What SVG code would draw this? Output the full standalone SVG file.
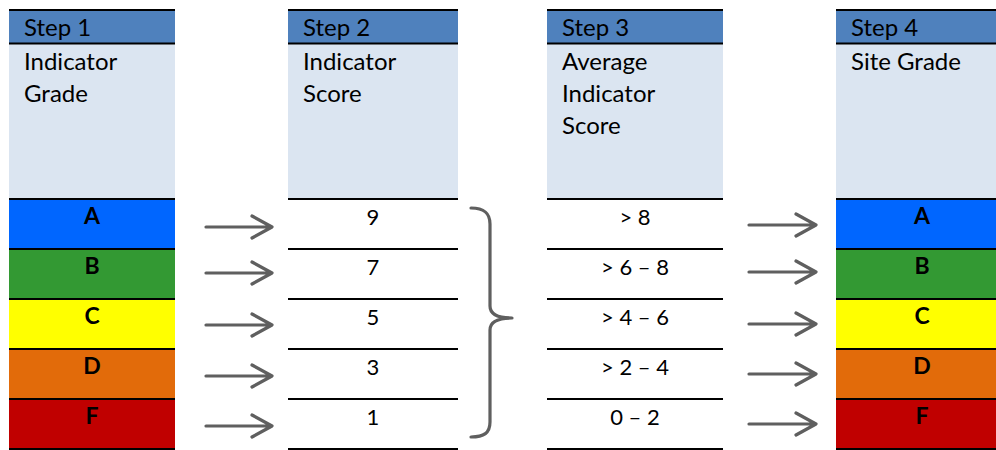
<svg xmlns="http://www.w3.org/2000/svg" width="996" height="450" viewBox="0 0 996 450">
  <style>
    .head { fill: #4F81BD; }
    .body { fill: #DBE5F1; }
    .rule { stroke: #000; stroke-width: 2; fill: none; }
    .txt { font-family: Lato, "Open Sans", "Liberation Sans", sans-serif; font-size: 24px; fill: #000; }
    .grade { font-family: Lato, "Open Sans", "Liberation Sans", sans-serif; font-size: 23px; font-weight: bold; fill: #000; text-anchor: middle; }
    .num { font-family: Lato, "Open Sans", "Liberation Sans", sans-serif; font-size: 22px; fill: #000; text-anchor: middle; }
    .conn { stroke: #5F5F5F; stroke-width: 3.2; fill: none; stroke-linecap: round; stroke-linejoin: round; }
    .ga { fill: #0066FF; } .gb { fill: #339933; } .gc { fill: #FFFF00; } .gd { fill: #E26B0A; } .gf { fill: #C00000; }
  </style>
  <rect width="996" height="450" fill="#fff"/>

  <!-- Step 1: indicator grade -->
  <g id="step1">
    <rect class="head" x="9" y="10" width="166" height="33"/>
    <rect class="body" x="9" y="43" width="166" height="156"/>
    <rect class="ga" x="9" y="199" width="166" height="50"/>
    <rect class="gb" x="9" y="249" width="166" height="50"/>
    <rect class="gc" x="9" y="299" width="166" height="50"/>
    <rect class="gd" x="9" y="349" width="166" height="50"/>
    <rect class="gf" x="9" y="399" width="166" height="50"/>
    <path class="rule" d="M9 10H175M9 43.5H175M9 199H175M9 249H175M9 299H175M9 349H175M9 399H175M9 449H175"/>
    <text class="txt" x="24" y="36">Step 1</text>
    <text class="txt" x="24" y="70">Indicator</text>
    <text class="txt" x="24" y="102">Grade</text>
    <text class="grade" x="92" y="224">A</text>
    <text class="grade" x="92" y="274">B</text>
    <text class="grade" x="92" y="324">C</text>
    <text class="grade" x="92" y="374">D</text>
    <text class="grade" x="92" y="424">F</text>
  </g>

  <!-- Step 2: indicator score -->
  <g id="step2">
    <rect class="head" x="288" y="10" width="170" height="33"/>
    <rect class="body" x="288" y="43" width="170" height="156"/>
    <path class="rule" d="M288 10H458M288 43.5H458M288 199H458M288 249H458M288 299H458M288 349H458M288 399H458M288 449H458"/>
    <text class="txt" x="303" y="36">Step 2</text>
    <text class="txt" x="303" y="70">Indicator</text>
    <text class="txt" x="303" y="102">Score</text>
    <text class="num" x="373" y="225">9</text>
    <text class="num" x="373" y="275">7</text>
    <text class="num" x="373" y="325">5</text>
    <text class="num" x="373" y="375">3</text>
    <text class="num" x="373" y="425">1</text>
  </g>

  <!-- Step 3: average indicator score -->
  <g id="step3">
    <rect class="head" x="547" y="10" width="176" height="33"/>
    <rect class="body" x="547" y="43" width="176" height="156"/>
    <path class="rule" d="M547 10H723M547 43.5H723M547 199H723M547 249H723M547 299H723M547 349H723M547 399H723M547 449H723"/>
    <text class="txt" x="562" y="36">Step 3</text>
    <text class="txt" x="562" y="70">Average</text>
    <text class="txt" x="562" y="102">Indicator</text>
    <text class="txt" x="562" y="134">Score</text>
    <text class="num" x="635" y="225">&gt; 8</text>
    <text class="num" x="635" y="275">&gt; 6 – 8</text>
    <text class="num" x="635" y="325">&gt; 4 – 6</text>
    <text class="num" x="635" y="375">&gt; 2 – 4</text>
    <text class="num" x="635" y="425">0 – 2</text>
  </g>

  <!-- Step 4: site grade -->
  <g id="step4">
    <rect class="head" x="836" y="10" width="172" height="33"/>
    <rect class="body" x="836" y="43" width="172" height="156"/>
    <rect class="ga" x="836" y="199" width="172" height="50"/>
    <rect class="gb" x="836" y="249" width="172" height="50"/>
    <rect class="gc" x="836" y="299" width="172" height="50"/>
    <rect class="gd" x="836" y="349" width="172" height="50"/>
    <rect class="gf" x="836" y="399" width="172" height="50"/>
    <path class="rule" d="M836 10H1008M836 43.5H1008M836 199H1008M836 249H1008M836 299H1008M836 349H1008M836 399H1008M836 449H1008"/>
    <text class="txt" x="851" y="36">Step 4</text>
    <text class="txt" x="851" y="70">Site Grade</text>
    <text class="grade" x="922" y="224">A</text>
    <text class="grade" x="922" y="274">B</text>
    <text class="grade" x="922" y="324">C</text>
    <text class="grade" x="922" y="374">D</text>
    <text class="grade" x="922" y="424">F</text>
  </g>

  <!-- connectors: grade-to-score arrows, brace, range-to-grade arrows -->
  <g id="connectors" class="conn">
    <path d="M206 227H271M252 216L272 227L252 238"/>
    <path d="M206 273H271M252 262L272 273L252 284"/>
    <path d="M206 325H271M252 314L272 325L252 336"/>
    <path d="M206 376H271M252 365L272 376L252 387"/>
    <path d="M206 426H271M252 415L272 426L252 437"/>
    <path d="M471 208C484 208 490 213 490 224V306C490 314 497 318 512 318C497 318 490 322 490 330V422C490 433 484 437 471 437"/>
    <path d="M749 225H815M796 214L816 225L796 236"/>
    <path d="M749 272H815M796 261L816 272L796 283"/>
    <path d="M749 324H815M796 313L816 324L796 335"/>
    <path d="M749 374H815M796 363L816 374L796 385"/>
    <path d="M749 424H815M796 413L816 424L796 435"/>
  </g>
</svg>
